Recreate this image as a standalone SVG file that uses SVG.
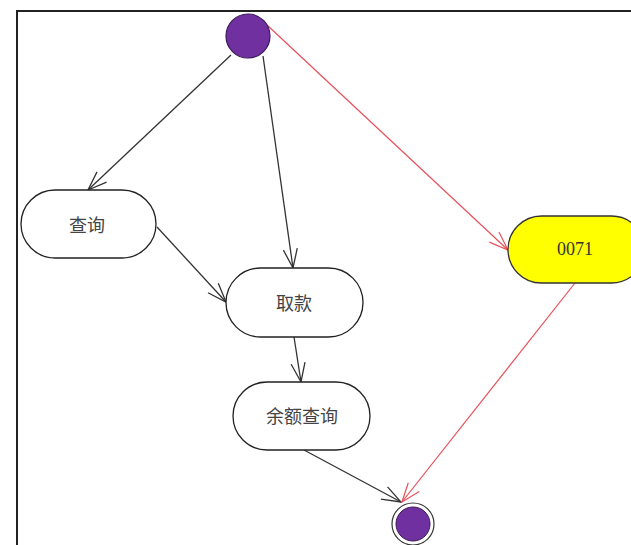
<svg xmlns="http://www.w3.org/2000/svg" width="631" height="545" viewBox="0 0 631 545">
<style>
.node{fill:#fff;stroke:#222;stroke-width:1.3}
.lbl{font-family:"Noto Sans CJK SC","Liberation Serif",serif;font-size:18px;fill:#444;text-anchor:middle;dominant-baseline:central}
.num{font-family:"Liberation Serif",serif;font-size:18px;fill:#333;text-anchor:middle;dominant-baseline:central}
.edge{fill:none;stroke:#333;stroke-width:1.3}
.red{fill:none;stroke:#e8505a;stroke-width:1.2}
</style>
<defs>
<marker id="ah" markerUnits="userSpaceOnUse" markerWidth="24" markerHeight="20" viewBox="-20 -10 24 20" refX="0" refY="0" orient="auto">
<path d="M-19,-7 L0,0 L-19,7" fill="none" stroke="#333" stroke-width="1.3"/>
</marker>
<marker id="ahr" markerUnits="userSpaceOnUse" markerWidth="24" markerHeight="20" viewBox="-20 -10 24 20" refX="0" refY="0" orient="auto">
<path d="M-19,-7 L0,0 L-19,7" fill="none" stroke="#e8505a" stroke-width="1.2"/>
</marker>
</defs>
<rect x="0" y="0" width="631" height="545" fill="#fff"/>
<rect x="17" y="11" width="800" height="800" fill="none" stroke="#222" stroke-width="2"/>
<g id="connectors">
<line class="edge" x1="231" y1="55" x2="88" y2="190" marker-end="url(#ah)"/>
<line class="edge" x1="263" y1="56" x2="293" y2="268" marker-end="url(#ah)"/>
<line class="red" x1="267" y1="25" x2="508" y2="250" marker-end="url(#ahr)"/>
<line class="edge" x1="157" y1="227" x2="226" y2="302" marker-end="url(#ah)"/>
<line class="edge" x1="294" y1="337" x2="301" y2="382" marker-end="url(#ah)"/>
<line class="edge" x1="304" y1="450" x2="401" y2="502" marker-end="url(#ah)"/>
<line class="red" x1="575" y1="283" x2="402" y2="502" marker-end="url(#ahr)"/>
</g>
<g id="start">
<circle cx="248" cy="36" r="22" fill="#7030a0" stroke="#3a1a5a" stroke-width="1.2"/>
</g>
<g id="query">
<rect class="node" x="21" y="190" width="135" height="68" rx="34" ry="34"/>
<text class="lbl" x="87" y="224">查询</text>
</g>
<g id="withdraw">
<rect class="node" x="226" y="268" width="137" height="69" rx="34.5" ry="34.5"/>
<text class="lbl" x="294" y="302">取款</text>
</g>
<g id="balance">
<rect class="node" x="233" y="382" width="137" height="68" rx="34" ry="34"/>
<text class="lbl" x="302" y="415">余额查询</text>
</g>
<g id="n0071">
<rect x="508" y="216" width="137" height="67" rx="33.5" ry="33.5" fill="#ffff00" stroke="#333" stroke-width="1.3"/>
<text class="num" x="575" y="249">0071</text>
</g>
<g id="end">
<circle cx="413" cy="524" r="21" fill="#fff" stroke="#333" stroke-width="1.2"/>
<circle cx="413" cy="524" r="17" fill="#7030a0" stroke="#3a1a5a" stroke-width="1"/>
</g>
</svg>
